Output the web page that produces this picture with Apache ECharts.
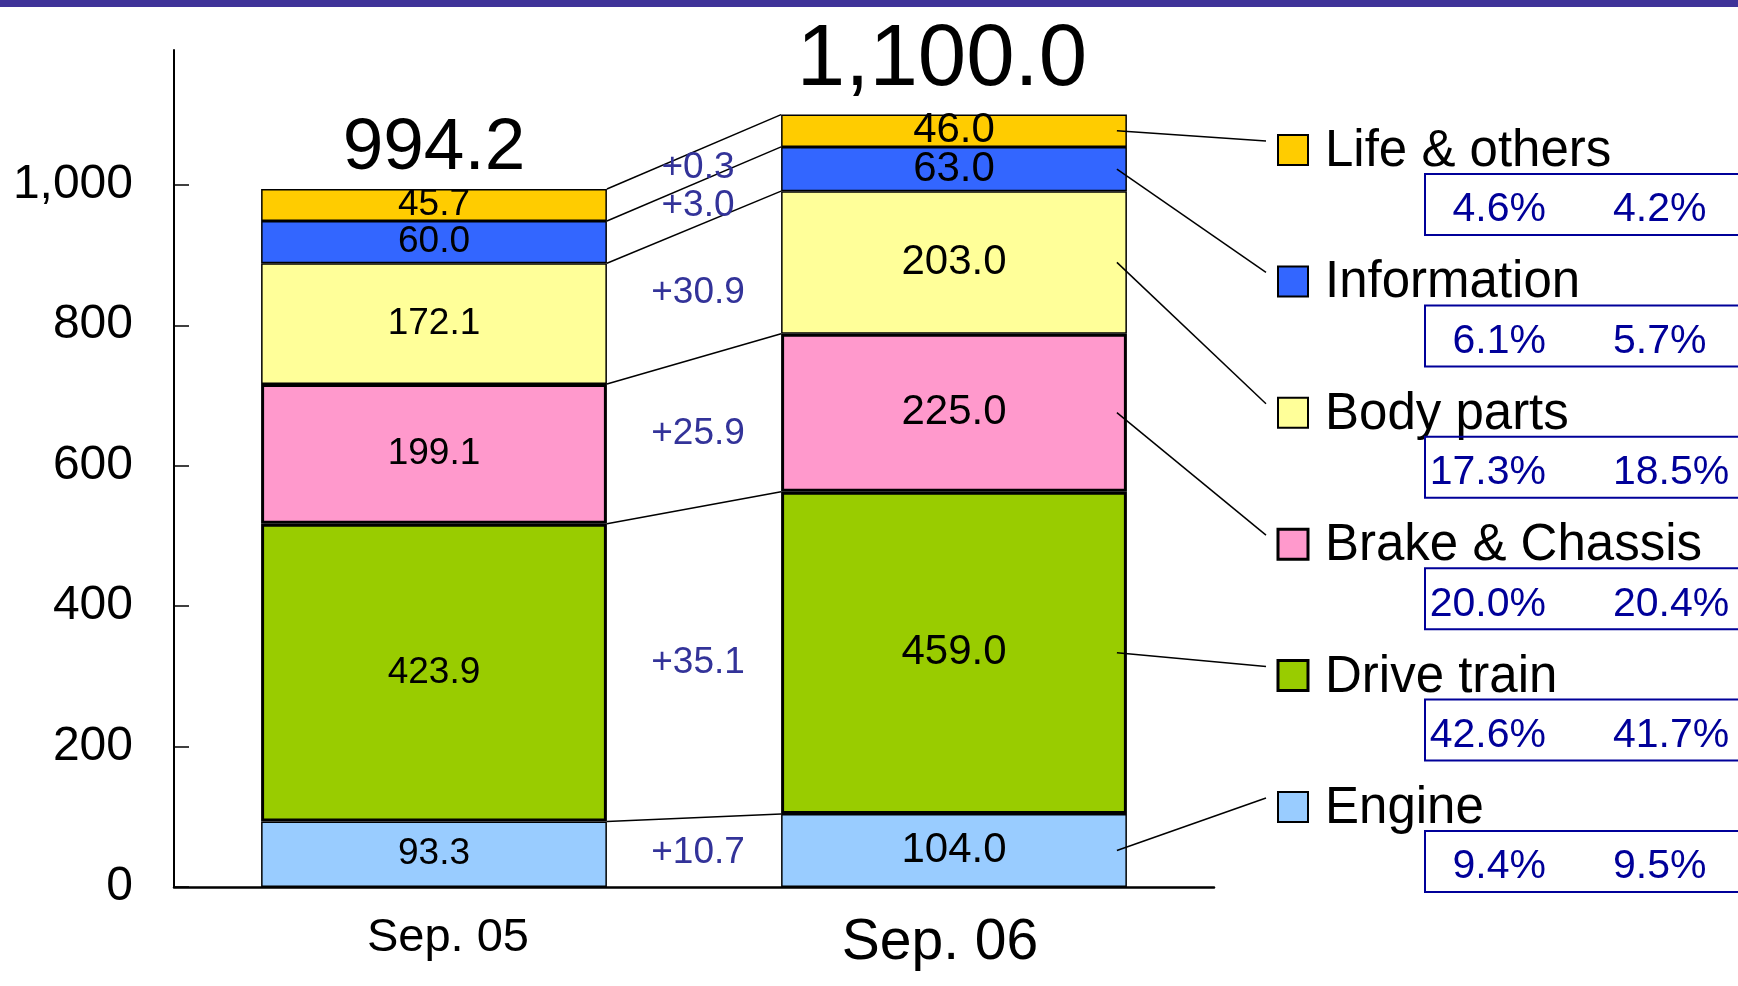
<!doctype html>
<html>
<head>
<meta charset="utf-8">
<title>Sales by product segment</title>
<script src="https://cdn.jsdelivr.net/npm/echarts@6/dist/echarts.min.js"></script>
<style>
html, body { margin: 0; padding: 0; background: #fff; }
#chart { width: 1738px; height: 986px; }
</style>
</head>
<body>
<div id="chart"></div>
<script>
// data (stack order bottom -> top)
var categories = ['Sep. 05', 'Sep. 06'];
var segments = ['Engine', 'Drive train', 'Brake & Chassis', 'Body parts', 'Information', 'Life & others'];
var sep05 = [93.3, 423.9, 199.1, 172.1, 60.0, 45.7];
var sep06 = [104.0, 459.0, 225.0, 203.0, 63.0, 46.0];
var totals = [994.2, 1100.0];
var changes = [10.7, 35.1, 25.9, 30.9, 3.0, 0.3];
var share05 = [9.4, 42.6, 20.0, 17.3, 6.1, 4.6];
var share06 = [9.5, 41.7, 20.4, 18.5, 5.7, 4.2];
var yTicks = [0, 200, 400, 600, 800, 1000];

// styles
var colors = ['#99CCFF', '#99CC00', '#FF99CC', '#FFFF99', '#3366FF', '#FFCC00'];
var borderW = [1.5, 3, 3, 1.5, 1.5, 1.5];
var FONT = "'Liberation Sans', Arial, sans-serif";
var barPct = 0.665;
var catFont = [47, 57];
var catShift = [14, -14];
var barFont = [37, 42];
var totalFont = [73, 87];
var totalGap = [40, 54];
var totalShift = [0, -12];
var legX = 1278, legY0 = 150, legStep = 131.4, mark = 30;

var cum05 = [], cum06 = [];
var s0 = 0, s1 = 0;
for (var i = 0; i < segments.length; i++) {
	s0 += sep05[i]; s1 += sep06[i];
	cum05.push(s0); cum06.push(s1);
}

var chart = echarts.init(document.getElementById('chart'));

// connectors between bars, change labels and leader lines to the legend
function renderLinks(params, api) {
	var i = params.dataIndex;
	var half = api.size([1, 0])[0] * barPct / 2;
	var a = api.coord([0, cum05[i]]);
	var b = api.coord([1, cum06[i]]);
	var m0 = api.coord([0, cum05[i] - sep05[i] / 2]);
	var m1 = api.coord([1, cum06[i] - sep06[i] / 2]);
	var row = segments.length - 1 - i;
	var cy = legY0 + row * legStep;
	return {
		type: 'group',
		children: [
			{ type: 'line', shape: { x1: a[0] + half, y1: a[1], x2: b[0] - half, y2: b[1] },
				style: { stroke: '#000', lineWidth: 1.5 } },
			{ type: 'text', style: { x: (a[0] + b[0]) / 2 + 4, y: (m0[1] + m1[1]) / 2,
				text: '+' + changes[i].toFixed(1), fill: '#333399', fontSize: 37, fontFamily: FONT,
				align: 'center', verticalAlign: 'middle' } },
			{ type: 'line', shape: { x1: b[0] + half - 10, y1: m1[1], x2: legX - 12, y2: cy - 9 },
				style: { stroke: '#000', lineWidth: 1.5 } }
		]
	};
}

function renderTotals(params, api) {
	var i = params.dataIndex;
	var p = api.coord([i, api.value(1)]);
	var fs = totalFont[i];
	return {
		type: 'text',
		style: { x: p[0] + totalShift[i], y: p[1] - totalGap[i], text: echarts.format.addCommas(totals[i].toFixed(1)),
			fill: '#000', fontSize: fs, fontFamily: FONT, align: 'center', verticalAlign: 'middle' }
	};
}

var series = segments.map(function(name, i) {
	return {
		name: name,
		type: 'bar',
		stack: 'total',
		barWidth: (barPct * 100) + '%',
		z: 2,
		itemStyle: { color: colors[i], borderColor: '#000', borderWidth: borderW[i] },
		label: {
			show: true, position: 'inside', color: '#000', fontFamily: FONT,
			formatter: function(p) { return p.value.toFixed(1); }
		},
		data: [
			{ value: sep05[i], label: { fontSize: barFont[0] } },
			{ value: sep06[i], label: { fontSize: barFont[1] } }
		]
	};
});

series.push({
	type: 'custom',
	z: 5,
	renderItem: renderLinks,
	data: segments.map(function(s, i) { return [0, cum05[i]]; })
});
series.push({
	type: 'custom',
	z: 5,
	renderItem: renderTotals,
	data: totals.map(function(t, i) { return [i, t]; })
});

// legend with share boxes
var graphics = [{ type: 'rect', shape: { x: 0, y: 0, width: 1738, height: 7 }, style: { fill: '#3F3399' } }];
for (var r = 0; r < segments.length; r++) {
	var k = segments.length - 1 - r;
	var cy = legY0 + r * legStep;
	graphics.push({ type: 'rect', shape: { x: legX, y: cy - mark / 2, width: mark, height: mark },
		style: { fill: colors[k], stroke: '#000', lineWidth: borderW[k] > 2 ? 3 : 2 } });
	graphics.push({ type: 'text', style: { x: legX + 47, y: cy + 2, text: segments[k], fill: '#000',
		fontSize: 51, fontFamily: FONT, verticalAlign: 'middle' } });
	graphics.push({ type: 'rect', shape: { x: 1425, y: cy + 24, width: 400, height: 61 },
		style: { fill: 'none', stroke: '#000099', lineWidth: 2 } });
	graphics.push({ type: 'text', style: { x: 1546, y: cy + 60, text: share05[k].toFixed(1) + '%', fill: '#000099',
		fontSize: 41, fontFamily: FONT, align: 'right', verticalAlign: 'middle' } });
	graphics.push({ type: 'text', style: { x: 1613, y: cy + 60, text: share06[k].toFixed(1) + '%', fill: '#000099',
		fontSize: 41, fontFamily: FONT, align: 'left', verticalAlign: 'middle' } });
}

chart.setOption({
	animation: false,
	backgroundColor: '#fff',
	grid: { left: 174, right: 524, top: 50, bottom: 99 },
	xAxis: {
		type: 'category',
		data: categories.map(function(c, i) {
			return { value: c, textStyle: { fontSize: catFont[i], padding: [0, 0, 0, catShift[i] * 2] } };
		}),
		axisLine: { lineStyle: { color: '#000', width: 2.5 } },
		axisTick: { inside: true, length: 18, lineStyle: { color: '#000', width: 1.5 } },
		axisLabel: { color: '#000', fontFamily: FONT, margin: 28 }
	},
	yAxis: {
		type: 'value',
		min: 0,
		max: 1192,
		interval: 200,
		axisLine: { show: true, lineStyle: { color: '#000', width: 2 } },
		axisTick: { show: true, inside: true, length: 15, customValues: yTicks, lineStyle: { color: '#000', width: 1.5 } },
		axisLabel: { customValues: yTicks, color: '#000', fontSize: 48, fontFamily: FONT, margin: 41,
			formatter: function(v) { return echarts.format.addCommas(v); } },
		splitLine: { show: false }
	},
	series: series,
	graphic: graphics
});
</script>
</body>
</html>
